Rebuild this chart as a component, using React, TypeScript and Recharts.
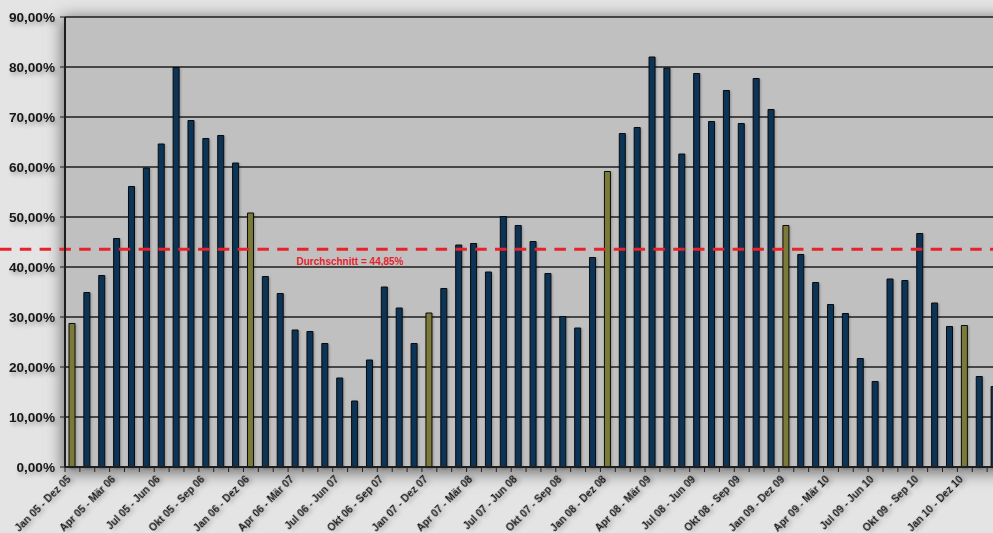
import React from 'react';
import { BarChart, Bar, XAxis, YAxis, CartesianGrid, ReferenceLine, Cell } from 'recharts';

const categories = [
  'Jan 05 - Dez 05', 'Feb 05 - Jan 06', 'Mär 05 - Feb 06', 'Apr 05 - Mär 06', 'Mai 05 - Apr 06', 'Jun 05 - Mai 06',
  'Jul 05 - Jun 06', 'Aug 05 - Jul 06', 'Sep 05 - Aug 06', 'Okt 05 - Sep 06', 'Nov 05 - Okt 06', 'Dez 05 - Nov 06',
  'Jan 06 - Dez 06', 'Feb 06 - Jan 07', 'Mär 06 - Feb 07', 'Apr 06 - Mär 07', 'Mai 06 - Apr 07', 'Jun 06 - Mai 07',
  'Jul 06 - Jun 07', 'Aug 06 - Jul 07', 'Sep 06 - Aug 07', 'Okt 06 - Sep 07', 'Nov 06 - Okt 07', 'Dez 06 - Nov 07',
  'Jan 07 - Dez 07', 'Feb 07 - Jan 08', 'Mär 07 - Feb 08', 'Apr 07 - Mär 08', 'Mai 07 - Apr 08', 'Jun 07 - Mai 08',
  'Jul 07 - Jun 08', 'Aug 07 - Jul 08', 'Sep 07 - Aug 08', 'Okt 07 - Sep 08', 'Nov 07 - Okt 08', 'Dez 07 - Nov 08',
  'Jan 08 - Dez 08', 'Feb 08 - Jan 09', 'Mär 08 - Feb 09', 'Apr 08 - Mär 09', 'Mai 08 - Apr 09', 'Jun 08 - Mai 09',
  'Jul 08 - Jun 09', 'Aug 08 - Jul 09', 'Sep 08 - Aug 09', 'Okt 08 - Sep 09', 'Nov 08 - Okt 09', 'Dez 08 - Nov 09',
  'Jan 09 - Dez 09', 'Feb 09 - Jan 10', 'Mär 09 - Feb 10', 'Apr 09 - Mär 10', 'Mai 09 - Apr 10', 'Jun 09 - Mai 10',
  'Jul 09 - Jun 10', 'Aug 09 - Jul 10', 'Sep 09 - Aug 10', 'Okt 09 - Sep 10', 'Nov 09 - Okt 10', 'Dez 09 - Nov 10',
  'Jan 10 - Dez 10', 'Feb 10 - Jan 11', 'Mär 10 - Feb 11',
];

const shares = [
  28.7, 34.9, 38.3, 45.7, 56.1, 59.8, 64.6, 79.9, 69.3, 65.7, 66.3, 60.8,
  50.8, 38.1, 34.7, 27.4, 27.1, 24.7, 17.8, 13.2, 21.4, 36.0, 31.8, 24.7,
  30.8, 35.7, 44.4, 44.7, 39.0, 50.1, 48.3, 45.1, 38.7, 30.1, 27.8, 41.9,
  59.1, 66.7, 67.9, 82.0, 79.8, 62.6, 78.7, 69.1, 75.3, 68.7, 77.7, 71.5,
  48.3, 42.5, 36.9, 32.5, 30.7, 21.7, 17.1, 37.6, 37.3, 46.7, 32.8, 28.1,
  28.3, 18.1, 16.1,
];

const yTicks = [0, 10, 20, 30, 40, 50, 60, 70, 80, 90];
const averageLevel = 43.55;
const averageLabel = 'Durchschnitt = 44,85%';

const data = categories.map((name, i) => ({ name, value: shares[i] }));

const CHART_W = 1010;
const CHART_H = 533;
const MARGIN = { top: 17, right: 8, left: 0, bottom: 0 };
const Y_W = 65;
const X_H = 66;
const PLOT_W = CHART_W - MARGIN.left - MARGIN.right - Y_W;
const PLOT_H = CHART_H - MARGIN.top - MARGIN.bottom - X_H;
const STEP = PLOT_W / categories.length;

const NAVY = '#0b3457';
const OLIVE = '#7b7a38';
const FONT = '"Liberation Sans", Arial, Helvetica, sans-serif';
const TEXT_SHADOW = 'drop-shadow(2px 3px 2px rgba(0,0,0,0.28))';

const XTick = (props: any) => {
  const { x, y, payload } = props;
  const idx = categories.indexOf(payload.value);
  const bx = x - STEP / 2;
  const lx = x - 1;
  const ly = y + 13;
  return (
    <g>
      <line x1={bx} y1={y} x2={bx} y2={y + 5} stroke="#222" strokeWidth={1} />
      {idx % 3 === 0 && (
        <text
          x={lx}
          y={ly}
          transform={`rotate(-45 ${lx} ${ly})`}
          textAnchor="end"
          fontSize={10.3}
          fontWeight="bold"
          fontFamily={FONT}
          fill="#161616"
          style={{ filter: TEXT_SHADOW }}
        >
          {payload.value}
        </text>
      )}
    </g>
  );
};

const YTick = (props: any) => {
  const { x, y, payload } = props;
  const label = payload.value.toFixed(2).replace('.', ',') + '%';
  return (
    <text
      x={x}
      y={y}
      dy={4.8}
      textAnchor="end"
      fontSize={13.6}
      fontWeight="bold"
      fontFamily={FONT}
      fill="#161616"
      style={{ filter: TEXT_SHADOW }}
    >
      {label}
    </text>
  );
};

const AvgLabel = (props: any) => {
  const vb = props.viewBox || {};
  const x = (vb.x || 0) + 285;
  const y = (vb.y || 0) + 16;
  return (
    <text x={x} y={y} textAnchor="middle" fontSize={10} fontWeight="bold" fontFamily={FONT} fill="#e8222b">
      {averageLabel}
    </text>
  );
};

const AvgLine = (props: any) => (
  <line
    x1={0}
    y1={props.y1}
    x2={props.x2}
    y2={props.y2}
    stroke="#e8222b"
    strokeWidth={3}
    strokeDasharray="11.5 8.3"
  />
);

export default function App() {
  return (
    <div
      style={{
        position: 'fixed',
        left: 0,
        top: 0,
        width: 993,
        height: 533,
        overflow: 'hidden',
        background: '#e4e4e4',
      }}
    >
      <div
        style={{
          position: 'absolute',
          left: Y_W,
          top: MARGIN.top,
          width: PLOT_W,
          height: PLOT_H,
          background: '#c0c0c0',
          boxShadow: '0 3px 14px 3px rgba(0,0,0,0.5)',
        }}
      />
      <div style={{ position: 'absolute', left: 0, top: 0 }}>
        <BarChart width={CHART_W} height={CHART_H} data={data} margin={MARGIN}>
          <CartesianGrid vertical={false} fill="#c0c0c0" fillOpacity={1} stroke="#1e1e1e" strokeWidth={1.3} />
          <XAxis
            dataKey="name"
            interval={0}
            height={X_H}
            tickSize={0}
            tickMargin={0}
            tickLine={false}
            axisLine={{ stroke: '#1e1e1e', strokeWidth: 2 }}
            tick={<XTick />}
          />
          <YAxis
            width={Y_W}
            domain={[0, 90]}
            ticks={yTicks}
            interval={0}
            tickSize={5}
            tickMargin={5}
            tickLine={{ stroke: '#1e1e1e', strokeWidth: 1 }}
            axisLine={{ stroke: '#1e1e1e', strokeWidth: 2 }}
            tick={<YTick />}
          />
          <Bar
            dataKey="value"
            barSize={6}
            stroke="#0a0a0a"
            strokeWidth={1}
            isAnimationActive={false}
            style={{ filter: 'drop-shadow(1px 1px 1px rgba(0,0,0,0.25))' }}
          >
            {data.map((d, i) => (
              <Cell key={i} fill={d.name.startsWith('Jan') ? OLIVE : NAVY} />
            ))}
          </Bar>
          <ReferenceLine
            y={averageLevel}
            ifOverflow="visible"
            shape={<AvgLine />}
            label={<AvgLabel />}
          />
        </BarChart>
      </div>
    </div>
  );
}
